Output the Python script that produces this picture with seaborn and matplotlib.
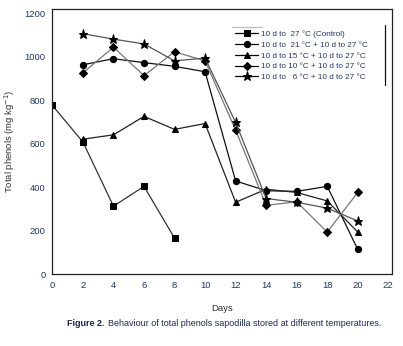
import pandas as pd
import seaborn as sns
import matplotlib.pyplot as plt
from matplotlib.lines import Line2D

# --- data ---
days_control = [0, 2, 4, 6, 8]
control = [775, 607, 312, 403, 165]

days = [2, 4, 6, 8, 10, 12, 14, 16, 18, 20]
t21 = [962, 990, 972, 955, 930, 428, 383, 380, 403, 113]
t15 = [620, 640, 725, 665, 692, 330, 390, 375, 336, 193]
t10 = [925, 1043, 912, 1022, 980, 662, 316, 332, 193, 375]
t6 = [1105, 1080, 1058, 980, 993, 697, 347, 330, 303, 244]

labels = ["10 d to  27 \u00b0C (Control)",
          "10 d to  21 \u00b0C + 10 d to 27 \u00b0C",
          "10 d to 15 \u00b0C + 10 d to 27 \u00b0C",
          "10 d to 10 \u00b0C + 10 d to 27 \u00b0C",
          "10 d to   6 \u00b0C + 10 d to 27 \u00b0C"]

x_ticks = list(range(0, 23, 2))
y_ticks = [0, 200, 400, 600, 800, 1000, 1200]

sns.set_theme(style="white")
plt.rcParams['font.family'] = ['Liberation Sans', 'DejaVu Sans']

fig = plt.figure(figsize=(4.03, 3.46), dpi=100)
ax = fig.add_axes([0.130, 0.208, 0.843, 0.765])

series = [
    (days_control, control, labels[0], 's', 4.2, '#333333'),
    (days, t21, labels[1], 'o', 4.5, '#111111'),
    (days, t15, labels[2], '^', 4.5, '#222222'),
    (days, t10, labels[3], 'D', 4, '#777777'),
    (days, t6, labels[4], '*', 6.5, '#555555'),
]
for xs, ys, lab, mk, ms, col in series:
    df = pd.DataFrame({'Days': xs, 'Phenols': ys})
    sns.lineplot(data=df, x='Days', y='Phenols', ax=ax, color=col, lw=0.9,
                 marker=mk, markersize=ms, markerfacecolor='black',
                 markeredgecolor='black', label=lab)

ax.set_xlim(0, 22.25)
ax.set_ylim(0, 1217)
ax.set_xticks(x_ticks)
ax.set_yticks(y_ticks)
ax.tick_params(direction='in', length=3, width=0.8, labelsize=6.8,
               labelcolor='#22386a', color='#333333', pad=5)
for s in ax.spines.values():
    s.set_color('#222222')
    s.set_linewidth(0.9)

ax.set_xlabel('Days', fontsize=6.8, color='#333333', labelpad=10)
ax.set_ylabel('Total phenols (mg kg$^{-1}$)', fontsize=6.8, color='#333333', labelpad=5)

leg = ax.legend(loc='upper left', bbox_to_anchor=(0.527, 0.932), frameon=False,
                fontsize=5.9, handlelength=2.9, handletextpad=0.3,
                labelspacing=0.36, borderaxespad=0)
for t in leg.get_texts():
    t.set_color('#22386a')
for h in leg.legend_handles:
    h.set_color('black')

# fragments of the legend box seen in the original
ax.add_line(Line2D([0.53, 0.617], [0.932, 0.932], transform=ax.transAxes,
                   color='#bbbbbb', lw=0.9))
ax.add_line(Line2D([0.979, 0.979], [0.714, 0.94], transform=ax.transAxes,
                   color='#111111', lw=0.9))

cap_y = 1 - 324 / 346
t1 = fig.text(67 / 403, cap_y, 'Figure 2.', fontsize=6.5, fontweight='bold',
              color='#1e2a50', va='center')
fig.canvas.draw()
bb = t1.get_window_extent()
fig.text((bb.x1 + 4) / 403, cap_y,
         'Behaviour of total phenols sapodilla stored at different temperatures.',
         fontsize=6.5, color='#1e2a50', va='center')

fig.savefig('out.png', dpi=100)
